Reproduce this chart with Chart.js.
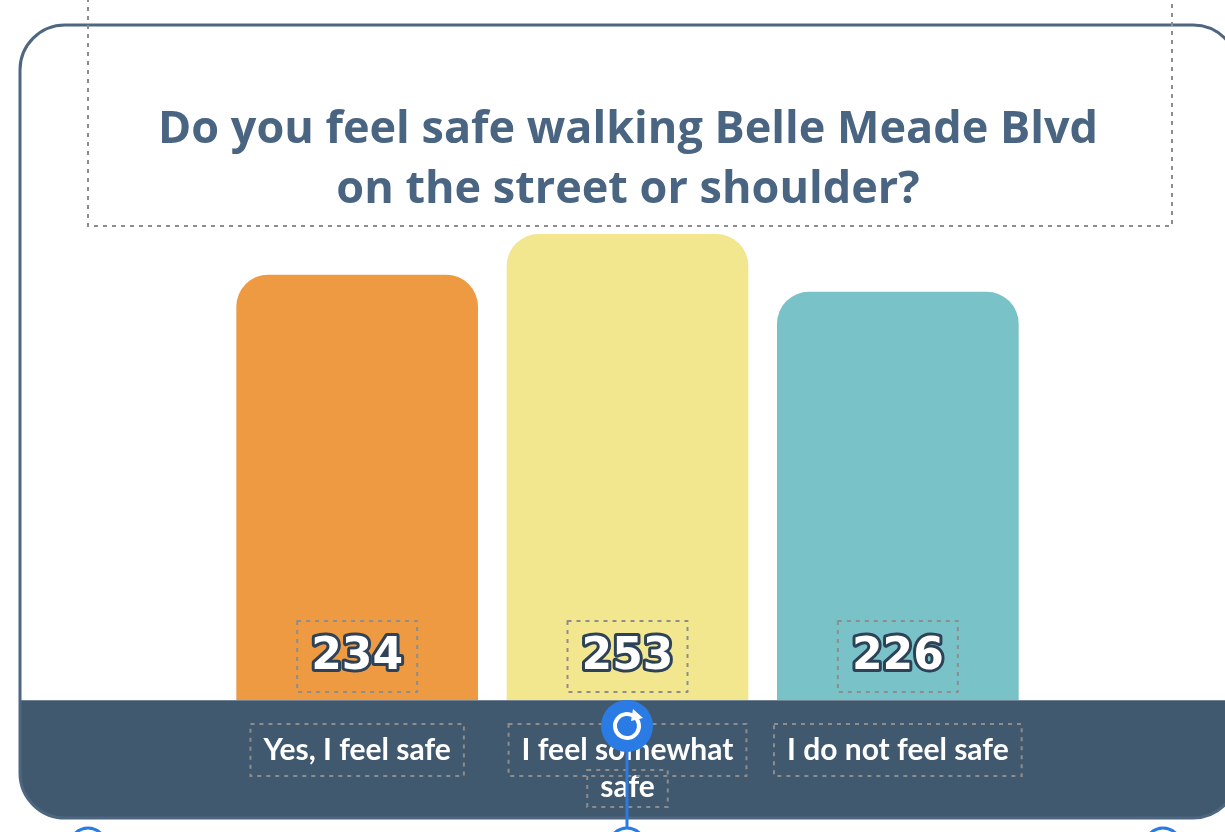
<!DOCTYPE html>
<html><head><meta charset="utf-8">
<style>html,body{margin:0;padding:0;background:#fff;overflow:hidden}#wrap{width:1225px;height:832px;position:relative}</style>
<script src="https://cdn.jsdelivr.net/npm/chart.js@4.4.1/dist/chart.umd.min.js"></script>
</head><body><div id="wrap"><canvas id="c"></canvas></div>
<script>
const categories = ['Yes, I feel safe', ['I feel somewhat', 'safe'], 'I do not feel safe'];
const values = [234, 253, 226];
const barColors = ['#ee9a43', '#f2e68f', '#79c3c8'];
const titleLines = ['Do you feel safe walking Belle Meade Blvd', 'on the street or shoulder?'];

const PANEL = {x: 20, y: 25, w: 1218, h: 793, r: 45};
const BAND_TOP = 700;
const BLUE = '#2a7be3';

function rr(ctx, x, y, w, h, r) {
  ctx.beginPath();
  ctx.moveTo(x + r, y);
  ctx.lineTo(x + w - r, y);
  ctx.arcTo(x + w, y, x + w, y + r, r);
  ctx.lineTo(x + w, y + h - r);
  ctx.arcTo(x + w, y + h, x + w - r, y + h, r);
  ctx.lineTo(x + r, y + h);
  ctx.arcTo(x, y + h, x, y + h - r, r);
  ctx.lineTo(x, y + r);
  ctx.arcTo(x, y, x + r, y, r);
  ctx.closePath();
}
function dashedBox(ctx, x1, y1, x2, y2) {
  ctx.save();
  ctx.strokeStyle = '#8d8d8d';
  ctx.lineWidth = 2;
  ctx.setLineDash([4, 5]);
  ctx.strokeRect(x1, y1, x2 - x1, y2 - y1);
  ctx.restore();
}

const decor = {
  id: 'decor',
  beforeDraw(chart) {
    const ctx = chart.ctx;
    ctx.save();
    rr(ctx, PANEL.x, PANEL.y, PANEL.w, PANEL.h, PANEL.r);
    ctx.fillStyle = '#ffffff';
    ctx.fill();
    ctx.restore();
  },
  afterDatasetsDraw(chart) {
    const ctx = chart.ctx;
    ctx.save();
    rr(ctx, PANEL.x, PANEL.y, PANEL.w, PANEL.h, PANEL.r);
    ctx.clip();
    ctx.fillStyle = '#41596f';
    ctx.fillRect(0, BAND_TOP, 1300, 200);
    ctx.fillStyle = 'rgba(255,255,255,0.25)';
    ctx.fillRect(0, BAND_TOP, 1300, 1);
    ctx.restore();
    ctx.save();
    rr(ctx, PANEL.x, PANEL.y, PANEL.w, PANEL.h, PANEL.r);
    ctx.strokeStyle = '#4e6781';
    ctx.lineWidth = 3;
    ctx.stroke();
    ctx.restore();
    // value labels
    const meta = chart.getDatasetMeta(0);
    ctx.save();
    ctx.font = 'bold 44px "DejaVu Sans"';
    ctx.textAlign = 'center';
    ctx.textBaseline = 'middle';
    ctx.lineJoin = 'round';
    meta.data.forEach((bar, i) => {
      const t = String(values[i]);
      ctx.strokeStyle = '#2d4257';
      ctx.lineWidth = 6;
      ctx.strokeText(t, bar.x, 658);
      ctx.fillStyle = '#ffffff';
      ctx.fillText(t, bar.x, 658);
      dashedBox(ctx, bar.x - 60, 621, bar.x + 60, 692);
    });
    ctx.restore();
  },
  afterDraw(chart) {
    const ctx = chart.ctx;
    // title dashed box
    dashedBox(ctx, 88, -10, 1172, 226);
    // category label boxes
    const xs = chart.scales.x;
    ctx.save();
    ctx.font = 'bold 30px Lato';
    categories.forEach((c, i) => {
      const lines = Array.isArray(c) ? c : [c];
      const cx = xs.getPixelForTick(i);
      lines.forEach((ln, j) => {
        const w = ctx.measureText(ln).width + 26;
        if (j === 0) dashedBox(ctx, cx - w / 2, 724, cx + w / 2, 776);
        else dashedBox(ctx, cx - w / 2, 770, cx + w / 2, 807);
      });
    });
    ctx.restore();
    // rotate handle (editor overlay)
    ctx.save();
    ctx.strokeStyle = BLUE;
    ctx.lineWidth = 3;
    ctx.beginPath();
    ctx.moveTo(627, 750); ctx.lineTo(627, 832); ctx.stroke();
    [88, 627, 1163].forEach(x => {
      ctx.beginPath();
      ctx.arc(x, 846, 18, 0, Math.PI * 2);
      ctx.fillStyle = '#ffffff';
      ctx.fill();
      ctx.stroke();
    });
    ctx.beginPath();
    ctx.arc(627, 726, 26, 0, Math.PI * 2);
    ctx.fillStyle = BLUE;
    ctx.fill();
    ctx.strokeStyle = '#ffffff';
    ctx.lineWidth = 4;
    ctx.beginPath();
    ctx.arc(627, 726, 12, -Math.PI * 0.3, Math.PI * 1.75);
    ctx.stroke();
    ctx.beginPath();
    ctx.moveTo(633, 709); ctx.lineTo(643, 718); ctx.lineTo(631, 721); ctx.closePath();
    ctx.fillStyle = '#ffffff';
    ctx.fill();
    ctx.restore();
  }
};

const hiddenAxis = (pos, w) => ({
  position: pos,
  display: true,
  min: 0,
  max: Math.max(...values),
  grid: {display: false, drawTicks: false},
  border: {display: false},
  ticks: {display: false},
  afterFit(axis) { axis.width = w; }
});

new Chart(document.getElementById('c'), {
  type: 'bar',
  data: {
    labels: categories,
    datasets: [{
      data: values,
      yAxisID: 'y',
      backgroundColor: barColors,
      borderWidth: 0,
      borderRadius: {topLeft: 32, topRight: 32, bottomLeft: 0, bottomRight: 0},
      borderSkipped: false,
      barPercentage: 0.894,
      categoryPercentage: 1
    }]
  },
  options: {
    responsive: true,
    maintainAspectRatio: false,
    animation: false,
    devicePixelRatio: 1,
    layout: {padding: {left: 31, right: 0, top: 0, bottom: 0}},
    plugins: {
      legend: {display: false},
      tooltip: {enabled: false},
      title: {
        display: true,
        text: titleLines,
        color: '#4a6582',
        font: {family: '"Open Sans"', weight: 'bold', size: 45, lineHeight: '60px'},
        padding: {top: 100, bottom: 14}
      }
    },
    scales: {
      x: {
        grid: {display: false, drawTicks: false},
        border: {display: false},
        ticks: {
          z: 1,
          color: '#ffffff',
          font: {family: 'Lato', weight: 'bold', size: 30, lineHeight: '37px'},
          padding: -43.5,
          maxRotation: 0,
          autoSkip: false
        },
        afterFit(axis) {
          axis.height = 57;
          axis._computeLabelArea = () => undefined;
        }
      },
      y: hiddenAxis('left', 191),
      yR: hiddenAxis('right', 192)
    }
  },
  plugins: [decor]
});
</script></body></html>
